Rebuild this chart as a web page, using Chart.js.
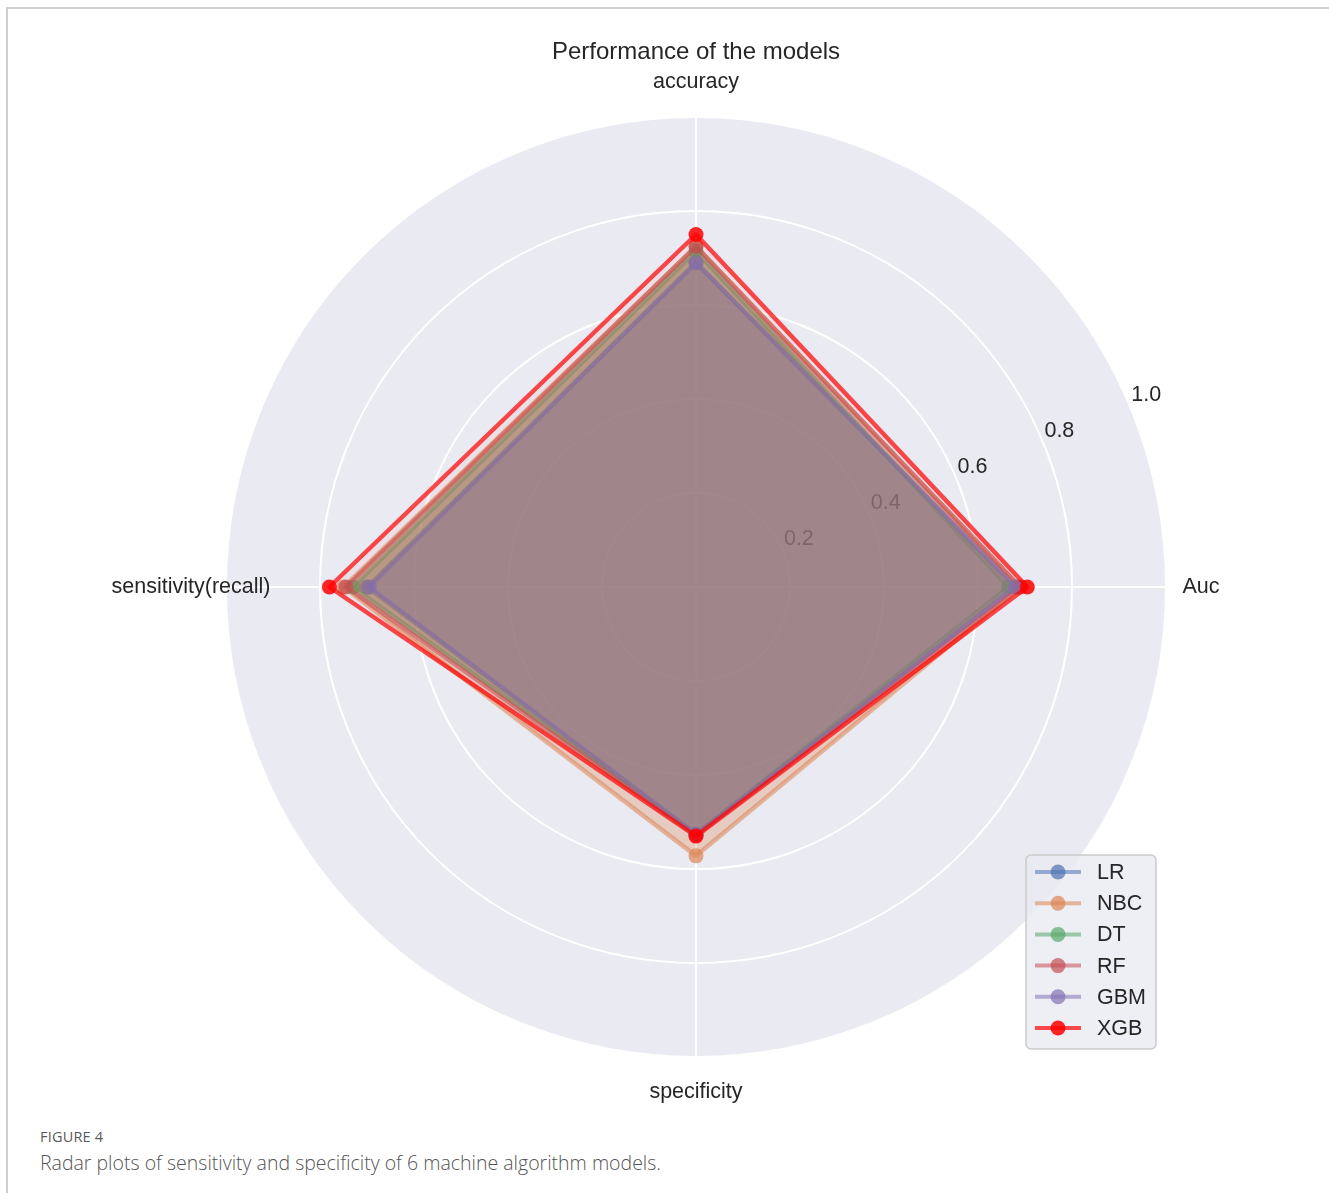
<!DOCTYPE html>
<html>
<head>
<meta charset="utf-8">
<title>Performance of the models</title>
<script src="https://cdn.jsdelivr.net/npm/chart.js@4.4.1/dist/chart.umd.min.js"></script>
<style>
  html, body { margin: 0; padding: 0; background: #ffffff; }
  body { width: 1329px; height: 1193px; position: relative; overflow: hidden; }
  .frame { position: absolute; left: 6px; top: 7px; width: 1323px; height: 1186px;
           border-top: 2px solid #cfcfcf; border-left: 2px solid #cfcfcf; box-sizing: border-box; }
  #radar { position: absolute; left: 0; top: 0; }
  .fig-num { position: absolute; left: 40px; top: 1127px; font-family: "Open Sans", sans-serif;
             font-size: 14.5px; color: #595959; letter-spacing: 0.2px; }
  .fig-cap { position: absolute; left: 40px; top: 1149px; font-family: "Open Sans", sans-serif;
             font-weight: 300; font-size: 19.5px; color: #555555; }
</style>
</head>
<body>
<div class="frame"></div>
<canvas id="radar" width="1329" height="1110"></canvas>
<div class="fig-num">FIGURE 4</div>
<div class="fig-cap">Radar plots of sensitivity and specificity of 6 machine algorithm models.</div>
<script>
// Axes, clockwise from the top
const categories = ['accuracy', 'Auc', 'specificity', 'sensitivity(recall)'];
const tickLabels = ['0.2', '0.4', '0.6', '0.8', '1.0'];
const models = ['LR', 'NBC', 'DT', 'RF', 'GBM', 'XGB'];

// Scores per model: [accuracy, Auc, specificity, sensitivity]
const LR  = [0.690, 0.680, 0.526, 0.700];
const NBC = [0.725, 0.690, 0.572, 0.750];
const DT  = [0.715, 0.665, 0.526, 0.730];
const RF  = [0.725, 0.690, 0.528, 0.745];
const GBM = [0.690, 0.680, 0.526, 0.695];
const XGB = [0.750, 0.705, 0.530, 0.780];

const seriesValues = [LR, NBC, DT, RF, GBM, XGB];
const seriesRGB = ['76,114,176', '221,132,82', '85,168,104', '196,78,82', '129,114,179', '255,0,0'];
const lineAlpha = [0.55, 0.55, 0.55, 0.55, 0.55, 0.7];
const fillAlpha = [0.32, 0.3, 0.36, 0.27, 0.24, 0.04];

const FONT = '"Liberation Sans", Arial, sans-serif';
const TEXT = '#262626';

// later models are painted on top of earlier ones
const datasets = models.map((name, i) => ({
  label: name,
  data: seriesValues[i],
  order: models.length - 1 - i,
  borderColor: `rgba(${seriesRGB[i]},${lineAlpha[i]})`,
  backgroundColor: `rgba(${seriesRGB[i]},${fillAlpha[i]})`,
  pointBackgroundColor: `rgba(${seriesRGB[i]},${lineAlpha[i] + 0.15})`,
  pointBorderWidth: 0,
  pointRadius: 7.5,
  borderWidth: 4.5,
  fill: true
}));

const rad = Math.PI / 180;

const decorations = {
  id: 'decorations',
  beforeDatasetsDraw(chart) {
    const r = chart.scales.r;
    const ctx = chart.ctx;
    ctx.save();
    ctx.fillStyle = TEXT;
    ctx.textAlign = 'center';
    ctx.textBaseline = 'middle';
    ctx.font = '21.5px ' + FONT;
    // radial tick labels along the 22.5° ray
    tickLabels.forEach(t => {
      const d = r.getDistanceFromCenterForValue(parseFloat(t));
      const x = r.xCenter + d * Math.cos(22.5 * rad) + 16;
      const y = r.yCenter - d * Math.sin(22.5 * rad) - 12;
      ctx.fillText(t, x, y);
    });
    // axis names, centred just outside the disc
    categories.forEach((c, i) => {
      const p = r.getPointPosition(i, r.drawingArea + 35);
      ctx.fillText(c, p.x, p.y);
    });
    ctx.restore();
  },
  afterDraw(chart) {
    const ctx = chart.ctx;
    const area = chart.chartArea;
    const w = 130, h = 194;
    const x0 = area.right - 10 - w;
    const y0 = area.bottom - 9 - h;
    ctx.save();
    ctx.beginPath();
    ctx.roundRect(x0, y0, w, h, 5);
    ctx.fillStyle = 'rgba(234,234,242,0.8)';
    ctx.fill();
    ctx.strokeStyle = '#cccccc';
    ctx.lineWidth = 1.5;
    ctx.stroke();
    ctx.font = '21.5px ' + FONT;
    ctx.textAlign = 'left';
    ctx.textBaseline = 'middle';
    chart.data.datasets.forEach((ds, i) => {
      const y = y0 + 17 + i * 31.2;
      ctx.strokeStyle = ds.borderColor;
      ctx.lineWidth = 4;
      ctx.beginPath();
      ctx.moveTo(x0 + 9, y);
      ctx.lineTo(x0 + 55, y);
      ctx.stroke();
      ctx.fillStyle = ds.pointBackgroundColor;
      ctx.beginPath();
      ctx.arc(x0 + 32, y, 7.5, 0, Math.PI * 2);
      ctx.fill();
      ctx.fillStyle = TEXT;
      ctx.fillText(ds.label, x0 + 71, y + 1);
    });
    ctx.restore();
  }
};

new Chart(document.getElementById('radar'), {
  type: 'radar',
  data: { labels: categories, datasets },
  options: {
    responsive: false,
    animation: false,
    layout: { padding: { left: 226, right: 163, top: 30, bottom: 52 } },
    elements: { line: { tension: 0, borderJoinStyle: 'round' } },
    plugins: {
      legend: { display: false },
      tooltip: { enabled: false },
      title: {
        display: true,
        text: 'Performance of the models',
        color: TEXT,
        font: { family: FONT, size: 24, weight: 'normal' },
        padding: { top: 8, bottom: 51 }
      }
    },
    scales: {
      r: {
        min: 0,
        max: 1,
        beginAtZero: true,
        backgroundColor: '#EAEAF2',
        ticks: { display: false, stepSize: 0.2 },
        grid: { circular: true, color: '#ffffff', lineWidth: 2 },
        angleLines: { color: '#ffffff', lineWidth: 2 },
        pointLabels: { display: false }
      }
    }
  },
  plugins: [decorations]
});
</script>
</body>
</html>
